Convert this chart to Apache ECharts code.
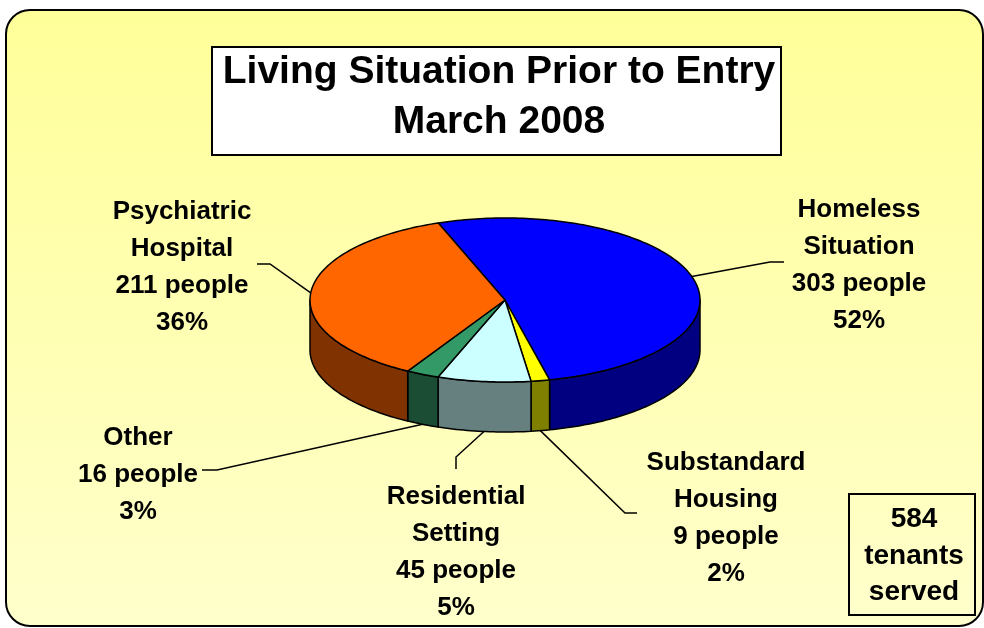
<!DOCTYPE html>
<html lang="en">
<head>
  <meta charset="UTF-8">
  <title>Living Situation Prior to Entry</title>
  <script src="https://cdn.jsdelivr.net/npm/echarts@6/dist/echarts.min.js"></script>
  <style>
    html, body { margin: 0; padding: 0; background: #fff; }
    #main { width: 984px; height: 628px; }
  </style>
</head>
<body>
  <div id="main"></div>
  <script>
    // data
    const names = ['Homeless\nSituation', 'Substandard\nHousing', 'Residential\nSetting', 'Other', 'Psychiatric\nHospital'];
    const people = [303, 9, 45, 16, 211];
    const percents = [52, 2, 5, 3, 36];
    const titleLines = ['Living Situation Prior to Entry', 'March 2008'];

    const topColors = ['#0000FF', '#FFFF00', '#CCFFFF', '#339966', '#FF6600'];
    const sideColors = ['#000080', '#808000', '#668080', '#1A4D33', '#803300'];

    // label layout (centre of each text block) and leader line elbows
    const labelPos = [[859, 265], [726, 518], [456, 552], [138, 475], [182, 267]];
    const leaderEnds = [
      [[770, 262], [784, 262]],
      [[625, 513], [637, 513]],
      [[456, 457], [456, 469]],
      [[217, 470], [202, 470]],
      [[270, 264], [257, 264]]
    ];

    const CX = 505, CY = 300, RX = 195, RY = 82, DEPTH = 50;
    const START = -110 * Math.PI / 180;
    const FONT = '"Liberation Sans", Arial, sans-serif';
    const total = people.reduce((a, b) => a + b, 0);

    const pt = (a, d) => [CX + RX * Math.cos(a), CY + RY * Math.sin(a) + d];
    function arc(a0, a1, d) {
      const n = Math.max(2, Math.ceil(Math.abs(a1 - a0) / 0.02) + 1);
      const out = [];
      for (let k = 0; k < n; k++) out.push(pt(a0 + (a1 - a0) * k / (n - 1), d));
      return out;
    }

    function renderItem(params, api) {
      const i = params.dataIndex;
      let before = 0;
      for (let k = 0; k < i; k++) before += people[k];
      const a0 = START + before / total * Math.PI * 2;
      const a1 = a0 + api.value(0) / total * Math.PI * 2;
      const line = { stroke: '#000', lineWidth: 1.5, lineJoin: 'round' };
      const children = [];

      // front side wall (where sin > 0)
      [[-2 * Math.PI, -Math.PI], [0, Math.PI], [2 * Math.PI, 3 * Math.PI]].forEach(function (r) {
        const b0 = Math.max(a0, r[0]), b1 = Math.min(a1, r[1]);
        if (b1 > b0) {
          const pts = arc(b0, b1, 0).concat(arc(b1, b0, DEPTH));
          children.push({
            type: 'polygon', z2: 1,
            shape: { points: pts },
            style: Object.assign({ fill: sideColors[i] }, line)
          });
        }
      });

      // top face
      children.push({
        type: 'polygon', z2: 10,
        shape: { points: [[CX, CY]].concat(arc(a0, a1, 0)) },
        style: Object.assign({ fill: topColors[i] }, line)
      });

      // leader line
      const mid = (a0 + a1) / 2;
      const start = pt(mid, Math.sin(mid) > 0 ? DEPTH : 0);
      children.push({
        type: 'polyline', z2: 0,
        shape: { points: [start].concat(leaderEnds[i]) },
        style: { stroke: '#000', lineWidth: 1.5, fill: null }
      });

      // label
      children.push({
        type: 'text', z2: 20,
        x: labelPos[i][0], y: labelPos[i][1],
        style: {
          text: names[i] + '\n' + api.value(0) + ' people\n' + percents[i] + '%',
          fill: '#000',
          font: 'bold 26px ' + FONT,
          align: 'center', verticalAlign: 'middle',
          lineHeight: 37
        }
      });

      return { type: 'group', children: children };
    }

    const chart = echarts.init(document.getElementById('main'), null, { renderer: 'canvas' });

    const option = {
      animation: false,
      backgroundColor: '#fff',
      graphic: [
        {
          type: 'rect', z: 0, silent: true,
          shape: { x: 6, y: 10, width: 977, height: 616, r: 24 },
          style: {
            fill: new echarts.graphic.LinearGradient(0, 0, 0, 1, [
              { offset: 0, color: '#FFFF99' },
              { offset: 1, color: '#FFFFCC' }
            ]),
            stroke: '#000', lineWidth: 2
          }
        },
        {
          type: 'rect', z: 1, silent: true,
          shape: { x: 212, y: 47, width: 569, height: 108 },
          style: { fill: '#fff', stroke: '#000', lineWidth: 2 }
        },
        {
          type: 'text', z: 2, silent: true,
          x: 499, y: 97,
          style: {
            text: titleLines.join('\n'),
            fill: '#000',
            font: 'bold 39px ' + FONT,
            align: 'center', verticalAlign: 'middle',
            textAlign: 'center', textVerticalAlign: 'middle',
            lineHeight: 50
          }
        },
        {
          type: 'rect', z: 1, silent: true,
          shape: { x: 849, y: 494, width: 126, height: 121 },
          style: { fill: 'rgba(0,0,0,0)', stroke: '#000', lineWidth: 2 }
        },
        {
          type: 'text', z: 2, silent: true,
          x: 914, y: 556,
          style: {
            text: total + '\ntenants\nserved',
            fill: '#000',
            font: 'bold 28px ' + FONT,
            align: 'center', verticalAlign: 'middle',
            textAlign: 'center', textVerticalAlign: 'middle',
            lineHeight: 36.5
          }
        }
      ],
      series: [{
        type: 'custom',
        coordinateSystem: 'none',
        z: 5,
        silent: true,
        data: people,
        renderItem: renderItem
      }]
    };

    chart.setOption(option);
  </script>
</body>
</html>
